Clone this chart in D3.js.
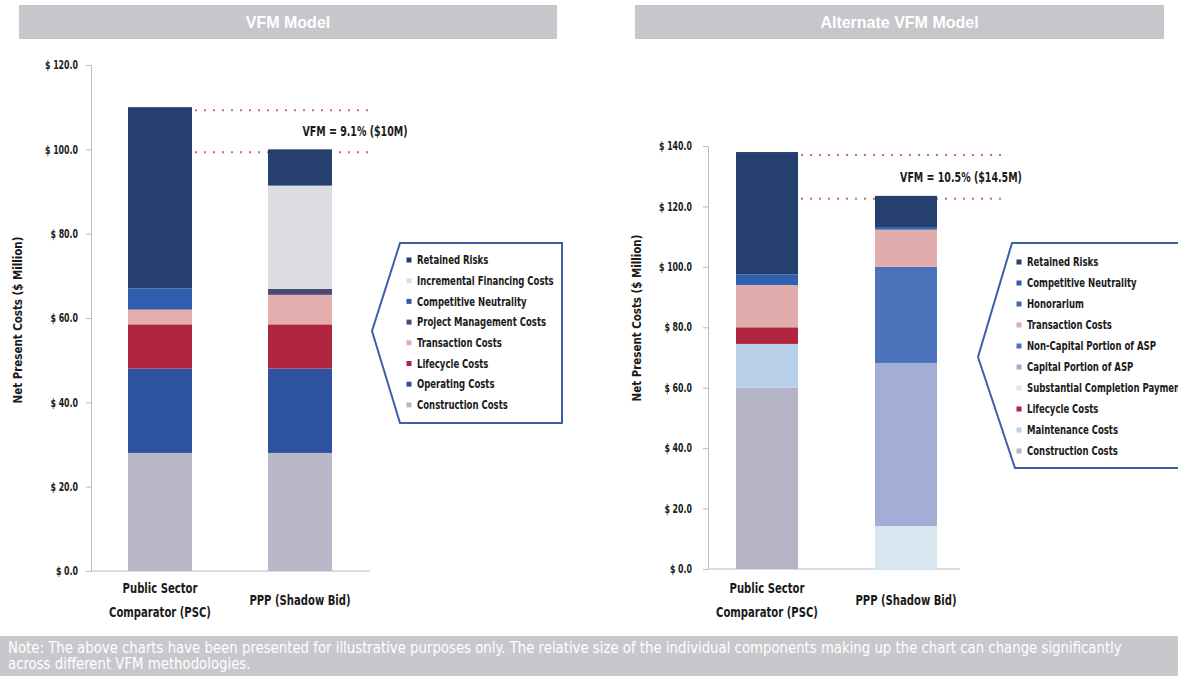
<!DOCTYPE html>
<html>
<head>
<meta charset="utf-8">
<script src="https://cdn.jsdelivr.net/npm/d3@7"></script>
<style>
  body { margin: 0; background: #fff; }
  svg { display: block; }
</style>
</head>
<body>
<div id="chart"></div>
<script>
// ---- data ----
const categories = ["Public Sector Comparator (PSC)", "PPP (Shadow Bid)"];
const categoryLines = [["Public Sector", "Comparator (PSC)"], ["PPP (Shadow Bid)"]];

// VFM model, stacked bottom -> top
const vfmKeys = ["Construction Costs", "Operating Costs", "Lifecycle Costs", "Transaction Costs",
    "Project Management Costs", "Competitive Neutrality", "Incremental Financing Costs", "Retained Risks"];
const vfmPsc = [28, 20, 10.5, 3.5, 0, 5, 0, 43];
const vfmPpp = [28, 20, 10.5, 7, 1.4, 0, 24.5, 8.6];
const vfmColors = ["#b8b8c9", "#2d52a0", "#b0243f", "#e4aeae", "#4b4a70", "#2f5db0", "#dcdce2", "#263f6e"];
const vfmTicks = [0, 20, 40, 60, 80, 100, 120];
const vfmNote = "VFM = 9.1% ($10M)";

// Alternate VFM model, stacked bottom -> top
const altKeys = ["Construction Costs", "Maintenance Costs", "Lifecycle Costs", "Substantial Completion Payment",
    "Capital Portion of ASP", "Non-Capital Portion of ASP", "Transaction Costs", "Honorarium",
    "Competitive Neutrality", "Retained Risks"];
const altPsc = [60, 14.5, 5.5, 0, 0, 0, 14, 0, 3.5, 40.5];
const altPpp = [0, 0, 0, 14.2, 54, 31.8, 12.3, 0.9, 0, 10.3];
const altColors = ["#b4b4c6", "#b8d0ea", "#b0243f", "#d8e6f0", "#a3aed6", "#4b73b9", "#e2acac", "#3a66b0", "#2e5fb0", "#25406f"];
const altTicks = [0, 20, 40, 60, 80, 100, 120, 140];
const altNote = "VFM = 10.5% ($14.5M)";

const footLines = [
    "Note: The above charts have been presented for illustrative purposes only. The relative size of the individual components making up the chart can change significantly",
    "across different VFM methodologies."
];

// ---- layout ----
const W = 1178, H = 676;
const NARROW = '"Liberation Sans Narrow", "Arial Narrow", "DejaVu Sans Condensed", sans-serif';
const SANS = '"Liberation Sans", Arial, sans-serif';

const svg = d3.select("#chart").append("svg")
    .attr("width", W)
    .attr("height", H);

// squeeze text horizontally around its anchor, the original face is very condensed
function condense(sel, k) {
    sel.each(function() {
        const t = d3.select(this);
        let ax = t.attr("x");
        if (ax == null) ax = t.select("tspan").empty() ? 0 : t.select("tspan").attr("x");
        ax = +ax || 0;
        const prev = t.attr("transform") || "";
        t.attr("transform", `${prev} translate(${ax},0) scale(${k},1) translate(${-ax},0)`);
    });
}

function drawPanel(p) {
    const g = svg.append("g");

    // header band
    g.append("rect")
        .attr("x", p.band[0]).attr("y", 5)
        .attr("width", p.band[1] - p.band[0]).attr("height", 34)
        .attr("fill", "#c6c6cb");
    g.append("text")
        .attr("x", (p.band[0] + p.band[1]) / 2).attr("y", 22)
        .attr("dy", "0.35em")
        .attr("text-anchor", "middle")
        .attr("fill", "#fff")
        .attr("font-family", SANS)
        .attr("font-weight", "bold")
        .attr("font-size", 16)
        .text(p.title);

    const rows = categories.map((c, i) => {
        const row = {category: c};
        p.keys.forEach((k, j) => row[k] = p.values[i][j]);
        return row;
    });
    const stacked = d3.stack().keys(p.keys)(rows);
    const totals = rows.map(r => d3.sum(p.keys, k => r[k]));

    const y = d3.scaleLinear().domain([0, p.yMax]).range(p.yRange);
    const x = d3.scaleBand()
        .domain(categories)
        .range([p.bandStart, p.bandStart + 2 * p.step])
        .paddingInner(p.pad)
        .paddingOuter(p.pad / 2);

    // axis
    const axis = g.append("g")
        .attr("transform", `translate(${p.axisX},0)`)
        .call(d3.axisLeft(y).tickValues(p.ticks).tickSize(5).tickSizeOuter(0).tickPadding(p.tickPad)
            .tickFormat(d => "$ " + d.toFixed(1)));
    axis.select(".domain").attr("stroke", "#b9b9cc");
    axis.selectAll(".tick line").attr("stroke", "#b9b9cc");
    axis.selectAll(".tick text")
        .attr("fill", "#1a1a1a")
        .attr("font-family", NARROW)
        .attr("font-weight", "bold")
        .attr("font-size", 11.5)
        .call(condense, 0.76);

    g.append("line")
        .attr("x1", p.axisX).attr("x2", p.baseEnd)
        .attr("y1", y(0)).attr("y2", y(0))
        .attr("stroke", "#b9b9cc");

    g.append("text")
        .attr("transform", `translate(${p.labelX},${p.labelY}) rotate(-90)`)
        .attr("text-anchor", "middle")
        .attr("dy", "0.35em")
        .attr("fill", "#1a1a1a")
        .attr("font-family", NARROW)
        .attr("font-weight", "bold")
        .attr("font-size", 13)
        .text("Net Present Costs ($ Million)")
        .call(condense, 0.88);

    // dotted reference lines at each bar total
    totals.forEach(t => {
        g.append("line")
            .attr("x1", x(categories[0]) + x.bandwidth() + 3).attr("x2", p.dotEnd)
            .attr("y1", y(t) + 3).attr("y2", y(t) + 3)
            .attr("stroke", "#c96b7c")
            .attr("stroke-width", 2)
            .attr("stroke-dasharray", "2,7");
    });

    // stacked bars
    g.append("g").selectAll("g")
        .data(stacked)
        .join("g")
        .attr("fill", (d, i) => p.colors[i])
        .selectAll("rect")
        .data(d => d)
        .join("rect")
        .attr("x", d => x(d.data.category))
        .attr("width", x.bandwidth())
        .attr("y", d => y(d[1]))
        .attr("height", d => y(d[0]) - y(d[1]));

    g.append("text")
        .attr("x", x(categories[1]) + x.bandwidth() / 2 + 55)
        .attr("y", (y(totals[0]) + y(totals[1])) / 2 + 3)
        .attr("dy", "0.35em")
        .attr("text-anchor", "middle")
        .attr("fill", "#1a1a1a")
        .attr("font-family", NARROW)
        .attr("font-weight", "bold")
        .attr("font-size", 13.5)
        .text(p.note)
        .call(condense, 0.78);

    // category labels
    categoryLines.forEach((lines, i) => {
        const t = g.append("text")
            .attr("text-anchor", "middle")
            .attr("fill", "#1a1a1a")
            .attr("font-family", NARROW)
            .attr("font-weight", "bold")
            .attr("font-size", 14);
        lines.forEach((s, j) => {
            t.append("tspan")
                .attr("x", x(categories[i]) + x.bandwidth() / 2)
                .attr("y", y(0) + p.catOffset + (j - (lines.length - 1) / 2) * 24)
                .attr("dy", "0.35em")
                .text(s);
        });
        t.call(condense, 0.8);
    });

    // legend callout
    g.append("path")
        .attr("d", d3.line()(p.legendShape) + "Z")
        .attr("fill", "#fff")
        .attr("stroke", "#3d5fa9")
        .attr("stroke-width", 2);

    const legendKeys = p.keys.slice().reverse();
    const legendColors = p.colors.slice().reverse();
    const item = g.append("g").selectAll("g")
        .data(legendKeys)
        .join("g")
        .attr("transform", (d, i) => `translate(${p.legendX},${p.legendY + i * p.legendStep})`);
    item.append("rect")
        .attr("x", -2.5).attr("y", -2.5)
        .attr("width", 5).attr("height", 5)
        .attr("fill", (d, i) => legendColors[i]);
    item.append("text")
        .attr("x", 8)
        .attr("dy", "0.35em")
        .attr("fill", "#1a1a1a")
        .attr("font-family", NARROW)
        .attr("font-weight", "bold")
        .attr("font-size", 12)
        .text(d => d)
        .call(condense, 0.79);
}

drawPanel({
    title: "VFM Model", band: [19, 557],
    keys: vfmKeys, values: [vfmPsc, vfmPpp], colors: vfmColors,
    yMax: 120, yRange: [571, 65], ticks: vfmTicks, tickPad: 8,
    axisX: 91, baseEnd: 370, bandStart: 90, step: 140, pad: 0.543,
    labelX: 17, labelY: 320, dotEnd: 375, note: vfmNote, catOffset: 29.5,
    legendShape: [[400, 243], [372, 331], [400, 423], [562, 423], [562, 243]],
    legendX: 409, legendY: 260, legendStep: 20.7
});

drawPanel({
    title: "Alternate VFM Model", band: [635, 1164],
    keys: altKeys, values: [altPsc, altPpp], colors: altColors,
    yMax: 140, yRange: [569, 146], ticks: altTicks, tickPad: 11,
    axisX: 708, baseEnd: 960, bandStart: 697.5, step: 139, pad: 0.554,
    labelX: 636, labelY: 318, dotEnd: 1005, note: altNote, catOffset: 31,
    legendShape: [[1012, 243], [978, 357], [1015, 468], [1190, 468], [1190, 243]],
    legendX: 1019, legendY: 262, legendStep: 21
});

// footer note
svg.append("rect")
    .attr("x", 0).attr("y", 636)
    .attr("width", W).attr("height", H - 636)
    .attr("fill", "#c8c8cc");
const foot = svg.selectAll(".foot")
    .data(footLines)
    .join("text")
    .attr("class", "foot")
    .attr("x", 8)
    .attr("y", (d, i) => 648 + i * 16)
    .attr("dy", "0.35em")
    .attr("fill", "#fff")
    .attr("font-family", NARROW)
    .attr("font-size", 15)
    .text(d => d);
// stretch the note so its first line spans the same width as in the original
const footK = 1115 / foot.node().getComputedTextLength();
foot.call(condense, footK);
</script>
</body>
</html>
